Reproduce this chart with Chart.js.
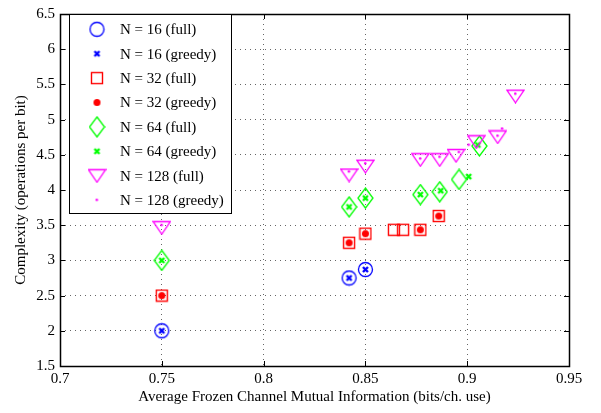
<!DOCTYPE html>
<html>
<head>
<meta charset="utf-8">
<script src="https://cdn.jsdelivr.net/npm/chart.js@4/dist/chart.umd.min.js"></script>
<style>
  html, body { margin: 0; padding: 0; background: #fff; }
  #wrap { width: 601px; height: 413px; }
</style>
</head>
<body>
<div id="wrap"><canvas id="chart"></canvas></div>
<script>
// series values
const n16FullX = [0.75, 0.842, 0.85];
const n16FullY = [2.0, 2.75, 2.87];
const n16GreedyX = [0.75, 0.842, 0.85];
const n16GreedyY = [2.0, 2.75, 2.87];

const n32FullX = [0.75, 0.842, 0.85, 0.864, 0.8685, 0.877, 0.886];
const n32FullY = [2.5, 3.25, 3.38, 3.435, 3.435, 3.435, 3.63];
const n32GreedyX = [0.75, 0.842, 0.85, 0.877, 0.886];
const n32GreedyY = [2.5, 3.25, 3.38, 3.435, 3.63];

const n64FullX = [0.75, 0.842, 0.85, 0.877, 0.8865, 0.896, 0.906];
const n64FullY = [3.0, 3.76, 3.885, 3.935, 3.975, 4.15, 4.625];
const n64GreedyX = [0.75, 0.842, 0.85, 0.877, 0.887, 0.9007, 0.9052];
const n64GreedyY = [3.0, 3.76, 3.885, 3.935, 3.99, 4.19, 4.64];

const n128FullX = [0.75, 0.842, 0.85, 0.877, 0.8865, 0.8945, 0.9045, 0.915, 0.9237];
const n128FullY = [3.465, 4.213, 4.338, 4.43, 4.43, 4.49, 4.685, 4.754, 5.333];
const n128GreedyX = [0.75, 0.842, 0.85, 0.877, 0.8865, 0.896, 0.9008, 0.915, 0.9172, 0.9237];
const n128GreedyY = [3.5, 4.26, 4.375, 4.444, 4.468, 4.537, 4.64, 4.768, 4.87, 5.365];

const seriesNames = [
    'N = 16 (full)', 'N = 16 (greedy)',
    'N = 32 (full)', 'N = 32 (greedy)',
    'N = 64 (full)', 'N = 64 (greedy)',
    'N = 128 (full)', 'N = 128 (greedy)'
];

const xTickLabels = ['0.7', '0.75', '0.8', '0.85', '0.9', '0.95'];
const yTickLabels = ['1.5', '2', '2.5', '3', '3.5', '4', '4.5', '5', '5.5', '6', '6.5'];

const FONT = 'Liberation Serif';

// marker images, roughly like matlab's o x s . d x v .
function makeMarker(w, h, draw) {
    const c = document.createElement('canvas');
    c.width = w;
    c.height = h;
    draw(c.getContext('2d'));
    return c;
}

const circleMark = makeMarker(17, 17, g => {
    g.strokeStyle = '#0000ff';
    g.lineWidth = 1.3;
    g.beginPath();
    g.arc(8.5, 8.5, 7, 0, Math.PI * 2);
    g.stroke();
});
const crossMark = color => makeMarker(9, 9, g => {
    g.strokeStyle = color;
    g.lineWidth = 2.4;
    g.beginPath();
    g.moveTo(2, 2); g.lineTo(7, 7);
    g.moveTo(7, 2); g.lineTo(2, 7);
    g.stroke();
});
const squareMark = makeMarker(14, 14, g => {
    g.strokeStyle = '#ff0000';
    g.lineWidth = 1.4;
    g.strokeRect(1.5, 1.5, 11, 11);
});
const dotMark = (color, r) => makeMarker(Math.ceil(r * 2 + 2), Math.ceil(r * 2 + 2), g => {
    const c = (r * 2 + 2) / 2;
    g.fillStyle = color;
    g.beginPath();
    g.arc(c, c, r, 0, Math.PI * 2);
    g.fill();
});
const diamondMark = makeMarker(17, 22, g => {
    g.strokeStyle = '#00ff00';
    g.lineWidth = 1.3;
    g.beginPath();
    g.moveTo(8.5, 1); g.lineTo(16, 11); g.lineTo(8.5, 21); g.lineTo(1, 11);
    g.closePath();
    g.stroke();
});
const triangleMark = makeMarker(19, 15, g => {
    g.strokeStyle = '#ff00ff';
    g.lineWidth = 1.3;
    g.beginPath();
    g.moveTo(1, 1.5); g.lineTo(18, 1.5); g.lineTo(9.5, 14);
    g.closePath();
    g.stroke();
});

const markers = [
    circleMark, crossMark('#0000ff'),
    squareMark, dotMark('#ff0000', 3.5),
    diamondMark, crossMark('#00ff00'),
    triangleMark, dotMark('#ff00ff', 1.3)
];

const seriesX = [n16FullX, n16GreedyX, n32FullX, n32GreedyX, n64FullX, n64GreedyX, n128FullX, n128GreedyX];
const seriesY = [n16FullY, n16GreedyY, n32FullY, n32GreedyY, n64FullY, n64GreedyY, n128FullY, n128GreedyY];

const datasets = seriesNames.map((name, i) => ({
    label: name,
    data: seriesX[i].map((x, k) => ({ x: x, y: seriesY[i][k] })),
    pointStyle: markers[i],
    pointRadius: 5,
    showLine: false,
    order: seriesNames.length - i   // later series drawn on top, like matlab
}));

// box frame with inward ticks, plus the legend in the top-left corner
const framePlugin = {
    id: 'frame',
    afterDraw(chart) {
        const ctx = chart.ctx;
        const a = chart.chartArea;
        const xs = chart.scales.x, ys = chart.scales.y;
        ctx.save();
        ctx.strokeStyle = '#000';
        ctx.lineWidth = 1;
        ctx.beginPath();
        xs.ticks.forEach(t => {
            const px = Math.round(xs.getPixelForValue(t.value)) + 0.5;
            ctx.moveTo(px, a.bottom); ctx.lineTo(px, a.bottom - 5);
            ctx.moveTo(px, a.top); ctx.lineTo(px, a.top + 5);
        });
        ys.ticks.forEach(t => {
            const py = Math.round(ys.getPixelForValue(t.value)) + 0.5;
            ctx.moveTo(a.left, py); ctx.lineTo(a.left + 5, py);
            ctx.moveTo(a.right, py); ctx.lineTo(a.right - 5, py);
        });
        ctx.stroke();
        ctx.lineWidth = 1.5;
        ctx.strokeRect(Math.round(a.left) + 0.5, Math.round(a.top) + 0.5,
            Math.round(a.right - a.left), Math.round(a.bottom - a.top));

        // legend
        const lx = 69.5, ly = 14.5, lw = 162, lh = 199;
        ctx.fillStyle = '#fff';
        ctx.fillRect(lx, ly, lw, lh);
        ctx.lineWidth = 1;
        ctx.strokeRect(lx, ly, lw, lh);
        ctx.font = '15px "' + FONT + '"';
        ctx.fillStyle = '#000';
        ctx.textBaseline = 'middle';
        ctx.textAlign = 'left';
        seriesNames.forEach((name, i) => {
            const yc = 29.3 + i * 24.4;
            const m = markers[i];
            ctx.drawImage(m, 97 - m.width / 2, yc - m.height / 2);
            ctx.fillText(name, 120, yc + 1);
        });
        ctx.restore();
    }
};

const gridStyle = {
    color: 'rgba(0, 0, 0, 0.6)',
    lineWidth: 1,
    drawTicks: false
};

new Chart(document.getElementById('chart').getContext('2d'), {
    type: 'scatter',
    data: { datasets: datasets },
    options: {
        responsive: true,
        maintainAspectRatio: false,
        animation: false,
        events: [],
        layout: {
            padding: { top: 6, right: 32, left: 0, bottom: 0 }
        },
        plugins: {
            legend: { display: false },
            tooltip: { enabled: false }
        },
        scales: {
            x: {
                type: 'linear',
                min: 0.7,
                max: 0.95,
                afterBuildTicks: s => { s.ticks = xTickLabels.map(v => ({ value: Number(v) })); },
                afterFit: s => { s.height = 47; },
                border: { display: false, dash: [1, 4] },
                grid: gridStyle,
                ticks: {
                    color: '#000',
                    padding: 4,
                    maxRotation: 0,
                    font: { family: FONT, size: 15 },
                    callback: (v, i) => xTickLabels[i]
                },
                title: {
                    display: true,
                    text: 'Average Frozen Channel Mutual Information (bits/ch. use)',
                    color: '#000',
                    font: { family: FONT, size: 15 },
                    padding: { top: 0, bottom: 7 }
                }
            },
            y: {
                type: 'linear',
                min: 1.5,
                max: 6.5,
                afterBuildTicks: s => { s.ticks = yTickLabels.map(v => ({ value: Number(v) })); },
                afterFit: s => { s.width = 60; },
                border: { display: false, dash: [1, 4] },
                grid: gridStyle,
                ticks: {
                    color: '#000',
                    padding: 5,
                    font: { family: FONT, size: 15 },
                    callback: (v, i) => yTickLabels[i]
                },
                title: {
                    display: true,
                    text: 'Complexity (operations per bit)',
                    color: '#000',
                    font: { family: FONT, size: 15 },
                    padding: { top: 12, bottom: 0 }
                }
            }
        }
    },
    plugins: [framePlugin]
});
</script>
</body>
</html>
